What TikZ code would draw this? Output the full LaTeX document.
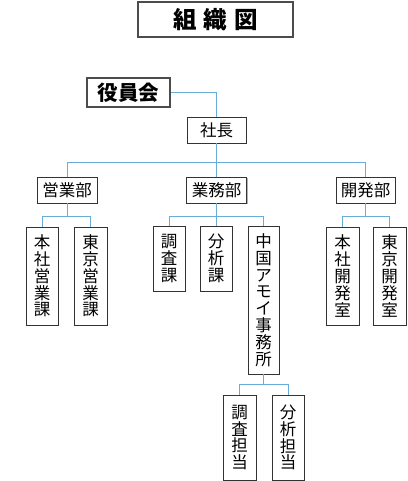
\documentclass[tikz,border=0pt]{standalone}
\usepackage{fontspec}
\setmainfont{Noto Sans CJK JP}
\usetikzlibrary{shadows}
\definecolor{conncol}{RGB}{105,172,215}
\tikzset{
  box/.style={draw=black!80, line width=0.8pt, fill=white, inner sep=0pt,
    align=center, font=\fontsize{16.5}{16.8}\selectfont,
    drop shadow={shadow xshift=1pt, shadow yshift=-1pt, fill=black!30, opacity=1}},
  bigbox/.style={draw=black!70, line width=2pt, fill=white, inner sep=0pt,
    align=center, font=\bfseries,
    drop shadow={shadow xshift=1.2pt, shadow yshift=-1.2pt, fill=black!25, opacity=1}},
  conn/.style={draw=conncol, line width=0.9pt}
}
\begin{document}
\begin{tikzpicture}[x=1pt,y=-1pt]
\useasboundingbox (0,0) rectangle (407,481);
% title and top
\node[bigbox, minimum width=155pt, minimum height=35pt, font=\bfseries\fontsize{23.5}{25}\selectfont] (title) at (215.5,19.5) {組\hspace{7pt}織\hspace{7pt}図};
\node[bigbox, minimum width=83pt, minimum height=29pt, font=\bfseries\fontsize{20.5}{22}\selectfont] (yakuin) at (128.5,92.5) {役員会};
\node[box, minimum width=59pt, minimum height=26pt] (shacho) at (216.5,130) {社長};
% departments
\node[box, minimum width=60pt, minimum height=26pt] (eigyo) at (67,190) {営業部};
\node[box, minimum width=60pt, minimum height=26pt] (gyomu) at (216.5,190) {業務部};
\node[box, minimum width=59pt, minimum height=26pt] (kaihatsu) at (365.5,190) {開発部};
% sections
\node[box, minimum width=32pt, minimum height=98pt] (he) at (42,276) {本\\社\\営\\業\\課};
\node[box, minimum width=33pt, minimum height=98pt] (te) at (90.5,276) {東\\京\\営\\業\\課};
\node[box, minimum width=32pt, minimum height=65pt] (chosa) at (169,258.5) {調\\査\\課};
\node[box, minimum width=32pt, minimum height=65pt] (bunseki) at (216,258.5) {分\\析\\課};
\node[box, minimum width=31pt, minimum height=148pt] (amoi) at (263.5,300) {中\\国\\ア\\モ\\イ\\事\\務\\所};
\node[box, minimum width=33pt, minimum height=98pt] (hk) at (342.5,276) {本\\社\\開\\発\\室};
\node[box, minimum width=33pt, minimum height=98pt] (tk) at (389.5,276) {東\\京\\開\\発\\室};
\node[box, minimum width=33pt, minimum height=85pt] (ct) at (239.5,437.5) {調\\査\\担\\当};
\node[box, minimum width=32pt, minimum height=85pt] (bt) at (288,437.5) {分\\析\\担\\当};
% buses
\coordinate (bus0) at (0,162);
\coordinate (bus1) at (0,216);
\coordinate (bus2) at (0,384);
% connectors
\draw[conn] (yakuin.east) -| (shacho.north);
\draw[conn] (shacho.south) -- (gyomu.north);
\draw[conn] (eigyo.north) -- (eigyo.north |- bus0) -- (kaihatsu.north |- bus0) -- (kaihatsu.north);
\draw[conn] (eigyo.south) -- (eigyo.south |- bus1);
\draw[conn] (he.north) -- (he.north |- bus1) -- (te.north |- bus1) -- (te.north);
\draw[conn] (gyomu.south) -- (gyomu.south |- bus1);
\draw[conn] (chosa.north) -- (chosa.north |- bus1) -- (amoi.north |- bus1) -- (amoi.north);
\draw[conn] (bunseki.north) -- (bunseki.north |- bus1);
\draw[conn] (kaihatsu.south) -- (kaihatsu.south |- bus1);
\draw[conn] (hk.north) -- (hk.north |- bus1) -- (tk.north |- bus1) -- (tk.north);
\draw[conn] (amoi.south) -- (amoi.south |- bus2);
\draw[conn] (ct.north) -- (ct.north |- bus2) -- (bt.north |- bus2) -- (bt.north);
\end{tikzpicture}
\end{document}
